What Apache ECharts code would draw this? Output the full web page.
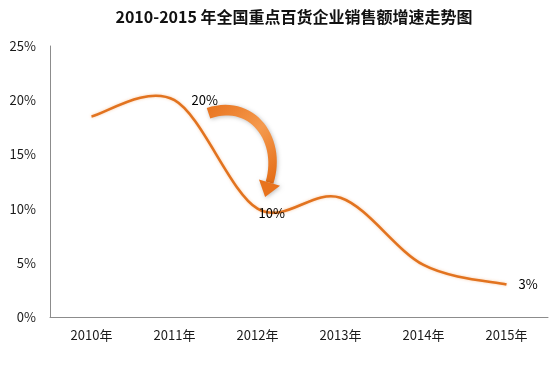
<!DOCTYPE html>
<html><head><meta charset="utf-8">
<script src="https://cdn.jsdelivr.net/npm/echarts@6/dist/echarts.min.js"></script>
<style>html,body{margin:0;padding:0;background:#fff}#c{width:550px;height:385px}</style>
</head><body><div id="c"></div>
<script>
const title = '2010-2015 年全国重点百货企业销售额增速走势图';
const categories = ['2010年','2011年','2012年','2013年','2014年','2015年'];
const growth = [18.5, 20.0, 10.0, 11.0, 4.8, 3.0];
const pointLabels = ['', '20%', '10%', '', '', '3%'];
const yTicks = [0, 5, 10, 15, 20, 25];

const chart = echarts.init(document.getElementById('c'));
const labelOffsets = [[0,0],[12,0],[-4,4],[0,0],[0,0],[7,0]];
const labelData = growth.map((v, i) => {
  const d = { value: [i, v] };
  if (pointLabels[i]) {
    d.label = { show: true, position: 'right', offset: labelOffsets[i], formatter: pointLabels[i],
      color: '#000', opacity: 1, fontSize: 13, fontFamily: 'Noto Sans CJK SC' };
  }
  return d;
});

// smooth curve (Catmull-Rom style, as in spreadsheet smoothed lines) through the data points
function renderCurve(params, api) {
  if (params.dataIndex !== 0) return null;
  const pts = growth.map((v, i) => api.coord([i, v]));
  let d = 'M' + pts[0][0] + ' ' + pts[0][1];
  for (let i = 0; i < pts.length - 1; i++) {
    const p0 = pts[Math.max(i - 1, 0)], p1 = pts[i], p2 = pts[i + 1], p3 = pts[Math.min(i + 2, pts.length - 1)];
    const c1 = [p1[0] + (p2[0] - p0[0]) / 6, p1[1] + (p2[1] - p0[1]) / 6];
    const c2 = [p2[0] - (p3[0] - p1[0]) / 6, p2[1] - (p3[1] - p1[1]) / 6];
    d += ' C' + c1[0] + ' ' + c1[1] + ' ' + c2[0] + ' ' + c2[1] + ' ' + p2[0] + ' ' + p2[1];
  }
  return { type: 'path', shape: { pathData: d },
    style: { fill: 'none', stroke: '#E2731F', lineWidth: 2.6, shadowColor: 'rgba(240,140,60,0.45)', shadowBlur: 3 } };
}

chart.setOption({
  animation: false,
  title: { text: title, left: 289, top: 4, textAlign: 'center',
    textStyle: { fontFamily: 'Noto Sans CJK SC', fontWeight: 'bold', fontSize: 16, color: '#111' } },
  grid: { left: 50, right: 2, top: 46, bottom: 68 },
  xAxis: { type: 'category', data: categories, boundaryGap: true,
    axisLine: { lineStyle: { color: '#8c8c8c', width: 1 } }, axisTick: { show: false },
    axisLabel: { color: '#1a1a1a', fontSize: 13, fontFamily: 'Noto Sans CJK SC', margin: 12 } },
  yAxis: { type: 'value', min: yTicks[0], max: yTicks[yTicks.length-1], interval: 5,
    axisLine: { show: true, lineStyle: { color: '#8c8c8c', width: 1 } }, axisTick: { show: false },
    splitLine: { show: false },
    axisLabel: { color: '#1a1a1a', fontSize: 13, fontFamily: 'Noto Sans CJK SC', margin: 14, formatter: '{value}%' } },
  series: [
    { type: 'custom', coordinateSystem: 'cartesian2d', renderItem: renderCurve,
      data: growth.map((v, i) => [i, v]), encode: { x: 0, y: 1 }, clip: false, z: 2 },
    { type: 'scatter', data: labelData, symbolSize: 0.01, itemStyle: { color: '#000', opacity: 0 }, z: 5,
      label: { color: '#000', opacity: 1, fontSize: 13, fontFamily: 'Noto Sans CJK SC' } }
  ]
});

// curved arrow annotation from the 20% point to the 10% point
const A = chart.convertToPixel({ seriesIndex: 1 }, [1, growth[1]]);
const B = chart.convertToPixel({ seriesIndex: 1 }, [2, growth[2]]);
const P0 = [A[0]+34, A[1]+13], P1 = [A[0]+78, A[1]-2], P2 = [A[0]+108, A[1]+40], P3 = [B[0]+12, B[1]-26];
function bez(t, i){ const u=1-t; return u*u*u*P0[i]+3*u*u*t*P1[i]+3*u*t*t*P2[i]+t*t*t*P3[i]; }
function dbez(t, i){ const u=1-t; return 3*u*u*(P1[i]-P0[i])+6*u*t*(P2[i]-P1[i])+3*t*t*(P3[i]-P2[i]); }
const left=[], right=[]; const N=30;
for (let k=0;k<=N;k++){ const t=k/N; const x=bez(t,0), y=bez(t,1); let dx=dbez(t,0), dy=dbez(t,1); const l=Math.hypot(dx,dy); dx/=l; dy/=l;
  const w = 5.5 - 1.5*t; left.push([x - dy*w, y + dx*w]); right.push([x + dy*w, y - dx*w]); }
const body = left.concat(right.reverse());
let tx=dbez(1,0), ty=dbez(1,1); const tl=Math.hypot(tx,ty); tx/=tl; ty/=tl;
const head = [[P3[0]-ty*11, P3[1]+tx*11],[P3[0]+tx*15, P3[1]+ty*15],[P3[0]+ty*11, P3[1]-tx*11]];
const grad = new echarts.graphic.LinearGradient(0,0,1,1,[{offset:0,color:'#E8731E'},{offset:0.5,color:'#F59A4E'},{offset:1,color:'#E36A12'}]);
chart.setOption({ graphic: [
  { type: 'polygon', shape: { points: body }, style: { fill: grad, shadowColor: 'rgba(0,0,0,0.25)', shadowBlur: 4, shadowOffsetX: 1, shadowOffsetY: 1 }, z: 10 },
  { type: 'polygon', shape: { points: head }, style: { fill: '#E8731E', shadowColor: 'rgba(0,0,0,0.25)', shadowBlur: 4, shadowOffsetX: 1, shadowOffsetY: 1 }, z: 10 }
]});
</script></body></html>
